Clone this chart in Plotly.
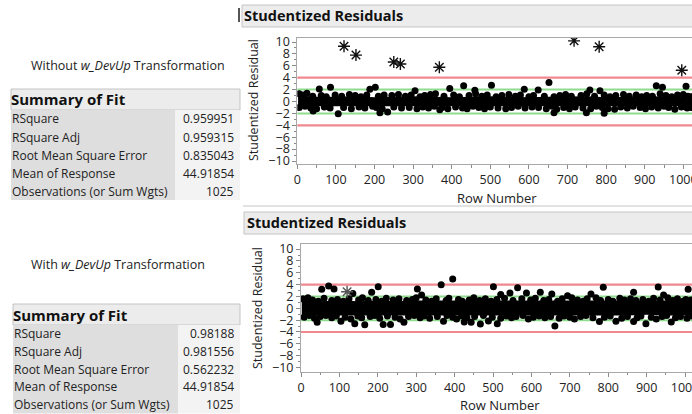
import plotly.graph_objects as go

W, H = 692, 414

# ---------------- data ----------------
fit_labels = ["RSquare", "RSquare Adj", "Root Mean Square Error",
              "Mean of Response", "Observations (or Sum Wgts)"]
fit_without = ["0.959951", "0.959315", "0.835043", "44.91854", "1025"]
fit_with = ["0.98188", "0.981556", "0.562232", "44.91854", "1025"]

x_ticks = [0, 100, 200, 300, 400, 500, 600, 700, 800, 900, 1000]
y_ticks = [10, 8, 6, 4, 2, 0, -2, -4, -6, -8, -10]
limit_red = [4, -4]
limit_green = [2, -2]

# --- Without transformation (top) ---
top_band_rows = [2, 50, 100, 150, 200, 250, 300, 350, 400, 450, 500, 550,
                 600, 650, 700, 750, 800, 850, 900, 950, 1000, 1030]
top_band_hi = [1.0, 0.8, 0.8, 0.9, 0.7, 0.8, 0.9, 0.8, 0.7, 0.8, 0.9, 0.8,
               0.7, 0.8, 0.8, 0.9, 0.7, 0.8, 0.8, 0.9, 0.8, 0.7]
top_band_lo = [-0.8, -0.7, -0.8, -0.7, -0.8, -0.8, -0.7, -0.8, -0.8, -0.7,
               -0.8, -0.7, -0.8, -0.8, -0.7, -0.8, -0.7, -0.8, -0.8, -0.7,
               -0.8, -0.8]
top_edge_rows = [5, 15, 25, 40, 62, 75, 98, 115, 135, 150, 165, 180, 210,
                 225, 245, 262, 280, 295, 318, 330, 345, 358, 380, 405, 420,
                 445, 462, 478, 492, 515, 530, 548, 565, 578, 600, 612, 640,
                 665, 680, 695, 710, 735, 750, 770, 795, 810, 825, 845, 860,
                 878, 892, 905, 920, 940, 955, 970, 985, 1000, 1012, 1020,
                 5, 20, 35, 50, 70, 85, 120, 140, 160, 175, 195, 205, 220,
                 250, 270, 290, 310, 325, 340, 355, 375, 390, 410, 428, 440,
                 455, 470, 485, 500, 520, 540, 555, 572, 590, 608, 625, 645,
                 660, 672, 690, 705, 720, 740, 760, 775, 790, 805, 822, 838,
                 855, 870, 888, 902, 918, 935, 950, 962, 978, 995, 1010, 1020]
top_edge_res = [1.3, 1.1, 1.4, 0.9, 1.0, 0.8, 1.1, 0.9, 1.2, 1.0, 0.8, 1.1,
                0.9, 1.1, 1.0, 1.2, 0.9, 1.1, 0.8, 1.0, 1.2, 1.3, 0.9, 1.1,
                0.8, 1.0, 1.3, 0.9, 1.1, 0.8, 1.0, 1.2, 0.9, 1.1, 0.8, 1.0,
                0.9, 0.8, 1.0, 1.2, 0.9, 1.0, 1.3, 0.9, 1.1, 0.8, 1.0, 1.2,
                0.9, 1.1, 0.8, 1.0, 0.9, 1.3, 1.0, 0.8, 1.1, 1.2, 0.9, 0.8,
                -1.0, -0.8, -1.1, -1.2, -0.9, -1.1, -1.0, -1.2, -0.9, -1.1,
                -0.8, -1.0, -1.2, -0.9, -1.1, -1.0, -1.2, -0.9, -1.1, -0.8,
                -1.0, -1.2, -0.9, -1.1, -1.2, -0.8, -1.0, -1.2, -0.9, -1.1,
                -1.2, -1.0, -0.8, -1.1, -0.9, -1.0, -1.2, -0.8, -1.3, -1.0,
                -1.2, -0.9, -1.1, -1.2, -0.8, -1.0, -1.2, -1.3, -0.9, -1.1,
                -0.8, -1.0, -1.2, -0.9, -1.1, -0.8, -1.0, -1.3, -0.9, -1.1,
                -1.0]
top_out_rows = [57, 86, 188, 202, 305, 395, 431, 460, 503, 588, 624, 652,
                758, 784, 930, 946, 1007, 41, 106, 214, 234, 369, 665, 749, 795]
top_out_res = [2.1, 2.4, 2.05, 2.4, 1.8, 2.2, 2.66, 1.9, 2.75, 2.05, 1.95,
               3.2, 1.95, 1.8, 2.65, 2.4, 2.55, -1.6, -2.05, -1.9, -1.75,
               -1.4, -1.9, -1.9, -1.95]
top_star_rows = [121, 152, 250, 267, 368, 717, 782, 996]
top_star_res = [9.3, 7.8, 6.65, 6.3, 5.75, 10.2, 9.2, 5.25]

# --- With transformation (bottom) ---
bot_band_rows = [2, 50, 100, 150, 200, 250, 300, 350, 400, 450, 500, 550,
                 600, 650, 700, 750, 800, 850, 900, 950, 1000, 1030]
bot_band_hi = [1.3, 1.2, 1.3, 1.2, 1.3, 1.2, 1.3, 1.3, 1.2, 1.3, 1.2, 1.3,
               1.3, 1.2, 1.3, 1.2, 1.3, 1.2, 1.3, 1.3, 1.2, 1.3]
bot_band_lo = [-1.2, -1.1, -1.2, -1.2, -1.1, -1.2, -1.2, -1.1, -1.2, -1.1,
               -1.2, -1.2, -1.1, -1.2, -1.2, -1.1, -1.2, -1.2, -1.1, -1.2,
               -1.2, -1.1]
bot_edge_rows = [5, 18, 30, 45, 60, 80, 95, 110, 125, 150, 160, 175, 195,
                 210, 222, 240, 255, 275, 290, 300, 325, 340, 352, 378, 385,
                 410, 420, 438, 450, 465, 480, 495, 510, 530, 552, 575, 598,
                 610, 632, 645, 668, 680, 705, 720, 735, 745, 768, 780, 800,
                 812, 830, 842, 858, 872, 890, 905, 918, 935, 955, 968, 980,
                 995, 1002, 1015,
                 8, 22, 35, 50, 65, 80, 92, 115, 130, 148, 158, 180, 192, 205,
                 225, 245, 258, 280, 295, 310, 320, 335, 355, 380, 395, 405,
                 418, 432, 452, 475, 498, 520, 535, 548, 560, 578, 592, 605,
                 620, 635, 650, 672, 685, 700, 712, 728, 742, 760, 790, 805,
                 835, 850, 875, 885, 912, 925, 940, 952, 975, 988, 1005, 1018]
bot_edge_res = [1.6, 1.8, 1.4, 1.2, 1.7, 1.3, 1.5, 1.2, 1.6, 1.4, 1.8, 1.3,
                1.5, 1.2, 1.7, 1.4, 1.6, 1.3, 1.5, 1.8, 1.4, 1.2, 1.6, 1.3,
                1.7, 1.5, 1.2, 1.4, 1.8, 1.3, 1.6, 1.2, 1.5, 1.7, 1.3, 1.6,
                1.4, 1.7, 1.3, 1.5, 1.2, 1.6, 1.8, 1.4, 1.2, 1.6, 1.8, 1.3,
                1.5, 1.2, 1.7, 1.4, 1.6, 1.3, 1.5, 1.2, 1.7, 1.4, 1.8, 1.3,
                1.6, 1.2, 1.5, 1.4,
                -1.5, -1.2, -1.7, -1.4, -1.2, -1.6, -1.3, -1.5, -1.8, -1.3,
                -1.6, -1.4, -1.2, -1.7, -1.3, -1.5, -1.8, -1.4, -1.2, -1.6,
                -1.3, -1.7, -1.4, -1.2, -1.5, -1.8, -1.3, -1.6, -1.4, -1.2,
                -1.5, -1.7, -1.3, -1.6, -1.4, -1.2, -1.8, -1.5, -1.3, -1.6,
                -1.4, -1.7, -1.3, -1.5, -1.8, -1.4, -1.2, -1.6, -1.5, -1.3,
                -1.7, -1.4, -1.6, -1.3, -1.5, -1.8, -1.4, -1.2, -1.6, -1.4,
                -1.7, -1.3]
bot_out_rows = [54, 72, 86, 135, 184, 201, 303, 314, 365, 395, 501, 520, 544,
                564, 587, 623, 653, 694, 755, 787, 866, 930, 944, 1008,
                42, 104, 140, 166, 214, 233, 268, 371, 425, 443, 467, 488,
                511, 661, 777, 820, 866, 898, 964]
bot_out_res = [3.2, 3.75, 3.25, 2.5, 2.72, 3.65, 3.26, 2.25, 3.97, 4.95,
               3.62, 2.33, 2.6, 3.45, 2.6, 2.72, 2.4, 2.1, 2.4, 3.55, 2.7,
               3.6, 2.25, 3.2,
               -2.35, -2.2, -2.6, -2.8, -2.72, -2.72, -2.35, -2.2, -2.3,
               -2.35, -2.65, -2.15, -2.6, -3.0, -2.25, -2.2, -2.25, -2.6,
               -2.3]
bot_star_rows = [120]
bot_star_res = [2.8]

# ---------------- helpers ----------------
def px(x):
    return x / W


def py(y):
    return 1 - y / H


FONT = "Open Sans"
TXT = "#222222"

fig = go.Figure()


def add_panel(xa, ya, band_x, hi, lo, edge_x, edge_y, out_x, out_y,
              star_x, star_y, star_color):
    fig.add_trace(go.Scatter(
        x=band_x + band_x[::-1], y=hi + lo[::-1], fill="toself",
        fillcolor="black", mode="lines", line=dict(width=0, color="black"),
        xaxis=xa, yaxis=ya, hoverinfo="skip", showlegend=False))
    fig.add_trace(go.Scatter(
        x=edge_x + out_x, y=edge_y + out_y, mode="markers",
        marker=dict(size=7, color="black"), xaxis=xa, yaxis=ya,
        showlegend=False))
    fig.add_trace(go.Scatter(
        x=star_x, y=star_y, mode="markers",
        marker=dict(symbol="asterisk-open", size=10, color=star_color,
                    line=dict(width=1.4, color=star_color)),
        xaxis=xa, yaxis=ya, showlegend=False))


add_panel("x", "y", top_band_rows, top_band_hi, top_band_lo, top_edge_rows,
          top_edge_res, top_out_rows, top_out_res, top_star_rows,
          top_star_res, "#111111")
add_panel("x2", "y2", bot_band_rows, bot_band_hi, bot_band_lo, bot_edge_rows,
          bot_edge_res, bot_out_rows, bot_out_res, bot_star_rows,
          bot_star_res, "#555555")

axis_common = dict(showline=True, linecolor="#a8a8a8", linewidth=1,
                   ticks="outside", tickcolor="#8a8a8a", ticklen=4,
                   showgrid=False, zeroline=False, automargin=False,
                   tickfont=dict(family=FONT, size=12.5, color=TXT))

fig.update_layout(
    width=W, height=H, margin=dict(l=0, r=0, t=0, b=0, autoexpand=False),
    paper_bgcolor="white", plot_bgcolor="white", showlegend=False,
    xaxis=dict(domain=[px(297.3), 1], range=[0, 1022.5], anchor="y",
               tickvals=x_ticks, mirror=True, ticklabeloverflow="allow",
               minor=dict(dtick=50, ticks="outside", ticklen=2.5,
                          tickcolor="#8a8a8a"), **axis_common),
    yaxis=dict(domain=[py(164), py(37.5)], range=[-10.5, 10.76], anchor="x",
               tickvals=y_ticks,
               minor=dict(dtick=1, ticks="outside", ticklen=2.5,
                          tickcolor="#8a8a8a"), **axis_common),
    xaxis2=dict(domain=[px(301), 1], range=[0, 1018], anchor="y2",
                tickvals=x_ticks, mirror=True, ticklabeloverflow="allow",
                minor=dict(dtick=50, ticks="outside", ticklen=2.5,
                           tickcolor="#8a8a8a"), **axis_common),
    yaxis2=dict(domain=[py(371.7), py(244)], range=[-10.71, 10.86],
                anchor="x2", tickvals=y_ticks,
                minor=dict(dtick=1, ticks="outside", ticklen=2.5,
                           tickcolor="#8a8a8a"), **axis_common),
)

shapes = []
annotations = []

# reference lines
for xd, yr in (("x domain", "y"), ("x2 domain", "y2")):
    for v in limit_red:
        shapes.append(dict(type="line", xref=xd, yref=yr, x0=0, x1=1,
                           y0=v, y1=v, line=dict(color="#f0888f", width=2.2),
                           layer="below"))
    for v in limit_green:
        shapes.append(dict(type="line", xref=xd, yref=yr, x0=0, x1=1,
                           y0=v, y1=v, line=dict(color="#8fdc8f", width=2),
                           layer="below"))


def header_bar(x0, y0, y1, text, tx):
    shapes.append(dict(type="rect", xref="paper", yref="paper",
                       x0=px(x0), x1=px(W + 2), y0=py(y1), y1=py(y0),
                       fillcolor="#ececec", line=dict(color="#c4c4c4", width=1),
                       layer="below"))
    annotations.append(dict(xref="paper", yref="paper", x=px(tx),
                            y=py((y0 + y1) / 2), text="<b>" + text + "</b>",
                            showarrow=False, xanchor="left", yanchor="middle",
                            font=dict(family=FONT, size=14.5, color="#111111")))


header_bar(242, 5, 27, "Studentized Residuals", 242)
header_bar(244, 212, 234, "Studentized Residuals", 245)

# thin outline marks
shapes.append(dict(type="line", xref="paper", yref="paper", x0=px(239),
                   x1=px(239), y0=py(22), y1=py(8),
                   line=dict(color="#555555", width=2)))
shapes.append(dict(type="line", xref="paper", yref="paper", x0=px(243),
                   x1=px(W), y0=py(206), y1=py(206),
                   line=dict(color="#e2e2e2", width=2)))


def axis_titles(xc, ytitle_x, yc, xt_y):
    annotations.append(dict(xref="paper", yref="paper", x=px(ytitle_x),
                            y=py(yc), text="Studentized Residual",
                            textangle=-90, showarrow=False,
                            xanchor="center", yanchor="middle",
                            font=dict(family=FONT, size=12.5, color=TXT)))
    annotations.append(dict(xref="paper", yref="paper", x=px(xc),
                            y=py(xt_y), text="Row Number", showarrow=False,
                            xanchor="center", yanchor="middle",
                            font=dict(family=FONT, size=13, color=TXT)))


axis_titles(497, 254, 100, 198)
axis_titles(500, 257, 308, 405)


def fit_table(x0, x1, xsplit, head_y0, head_y1, row_h, values, title_y,
              title_html):
    annotations.append(dict(xref="paper", yref="paper", x=px(29),
                            y=py(title_y), text=title_html, showarrow=False,
                            xanchor="left", yanchor="middle",
                            font=dict(family=FONT, size=12.5, color=TXT)))
    shapes.append(dict(type="rect", xref="paper", yref="paper", x0=px(x0),
                       x1=px(x1), y0=py(head_y1), y1=py(head_y0),
                       fillcolor="#ececec", line=dict(color="#c4c4c4", width=1),
                       layer="below"))
    annotations.append(dict(xref="paper", yref="paper", x=px(x0 - 2),
                            y=py((head_y0 + head_y1) / 2),
                            text="<b>Summary of Fit</b>", showarrow=False,
                            xanchor="left", yanchor="middle",
                            font=dict(family=FONT, size=15, color="#111111")))
    top = head_y1
    bottom = top + row_h * len(fit_labels)
    shapes.append(dict(type="rect", xref="paper", yref="paper", x0=px(x0),
                       x1=px(xsplit), y0=py(bottom), y1=py(top),
                       fillcolor="#dedede", line=dict(width=0), layer="below"))
    shapes.append(dict(type="rect", xref="paper", yref="paper",
                       x0=px(xsplit), x1=px(x1), y0=py(bottom), y1=py(top),
                       fillcolor="#f3f3f3", line=dict(width=0), layer="below"))
    for i, (lab, val) in enumerate(zip(fit_labels, values)):
        yc = top + row_h * (i + 0.5)
        annotations.append(dict(xref="paper", yref="paper", x=px(x0 - 1),
                                y=py(yc), text=lab, showarrow=False,
                                xanchor="left", yanchor="middle",
                                font=dict(family=FONT, size=12, color=TXT)))
        annotations.append(dict(xref="paper", yref="paper", x=px(x1 - 4),
                                y=py(yc), text=val, showarrow=False,
                                xanchor="right", yanchor="middle",
                                font=dict(family=FONT, size=12, color=TXT)))


fit_table(11, 240, 175, 89, 110, 18, fit_without, 65,
          "Without <i>w_DevUp</i> Transformation")
fit_table(13, 240, 178, 304, 325, 17.7, fit_with, 264,
          "With <i>w_DevUp</i> Transformation")

fig.update_layout(shapes=shapes, annotations=annotations)
fig.write_html("out.html")
